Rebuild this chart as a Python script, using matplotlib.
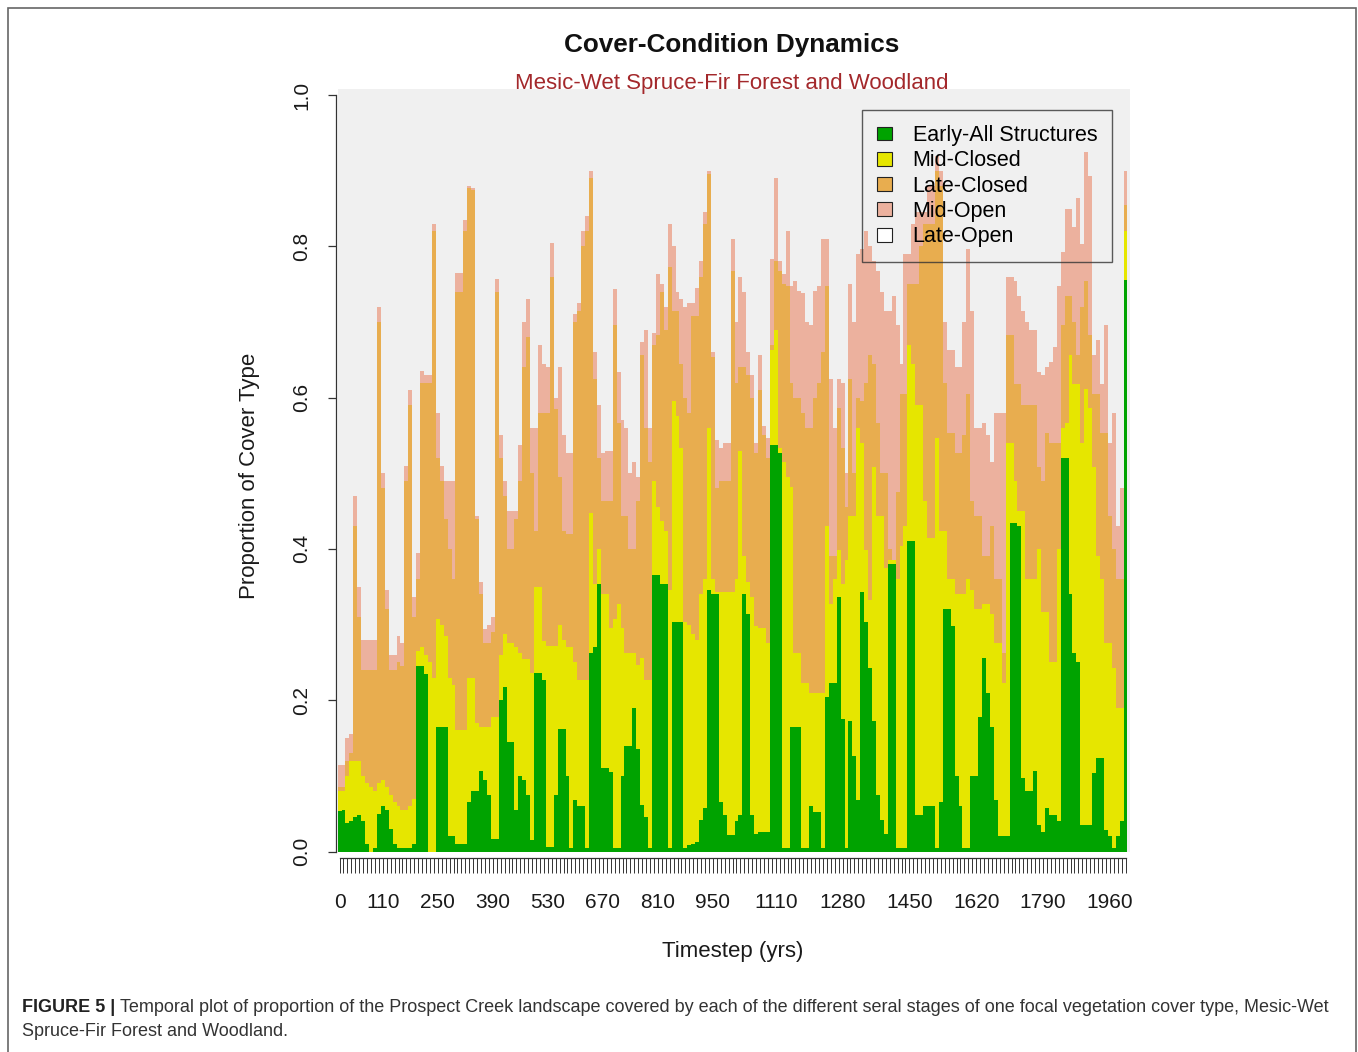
import numpy as np
import matplotlib
matplotlib.use("Agg")
import matplotlib.pyplot as plt
from matplotlib.patches import Patch, Rectangle

plt.rcParams['font.family'] = ['Liberation Sans', 'DejaVu Sans']

# --- data (cumulative stack tops, proportion of landscape) ---
timesteps = list(range(0, 2001, 10))
shown_years = [0, 110, 250, 390, 530, 670, 810, 950, 1110, 1280, 1450, 1620, 1790, 1960]

early_top = [
    .054, .055, .038, .040, .045, .048, .040, .010, .000, .005, .050, .060, .055, .030, .010, .005, .005, .005, .005, .010, .245, .245, .235, .000, .000,
    .165, .165, .165, .020, .020, .010, .010, .010, .065, .080, .080, .107, .094, .075, .016, .016, .200, .217, .145, .145, .055, .100, .094, .075, .015,
    .236, .236, .227, .006, .006, .075, .162, .162, .100, .005, .068, .060, .060, .005, .262, .270, .353, .110, .110, .105, .005, .005, .100, .140, .140, .190,
    .136, .061, .045, .005, .366, .366, .353, .353, .005, .304, .304, .304, .005, .008, .010, .012, .042, .058, .346, .340, .340, .065, .048, .022, .022,
    .040, .048, .340, .314, .048, .023, .026, .026, .026, .537, .537, .527, .005, .005, .165, .165, .165, .005, .005, .060, .052, .052, .005, .204, .223, .223,
    .337, .175, .005, .172, .126, .068, .343, .304, .243, .172, .075, .042, .023, .380, .380, .005, .005, .005, .410, .410, .048, .048, .060, .060, .060,
    .005, .065, .320, .320, .298, .100, .060, .005, .005, .100, .100, .178, .256, .210, .165, .068, .020, .020, .020, .434, .434, .430, .097, .080, .080, .107,
    .035, .026, .058, .048, .048, .040, .520, .520, .340, .262, .250, .035, .035, .035, .104, .123, .123, .029, .020, .005, .020, .040, .755,
]
mid_closed_top = [
    .080, .080, .100, .120, .120, .120, .100, .090, .085, .080, .090, .095, .085, .075, .065, .060, .055, .055, .060, .070, .265, .270, .260, .250, .230,
    .307, .300, .285, .230, .220, .160, .160, .160, .230, .230, .170, .165, .165, .165, .178, .178, .260, .288, .275, .275, .270, .262, .255, .255, .236,
    .350, .350, .278, .272, .272, .272, .300, .280, .270, .270, .250, .227, .227, .227, .447, .353, .400, .340, .340, .295, .307, .327, .295, .262, .262, .262,
    .246, .256, .227, .227, .490, .456, .437, .424, .346, .595, .576, .534, .304, .300, .288, .280, .340, .360, .560, .360, .343, .343, .343, .343, .343,
    .360, .530, .390, .356, .337, .298, .295, .295, .275, .663, .690, .534, .515, .495, .482, .262, .262, .223, .223, .210, .210, .210, .210, .430, .327, .360,
    .398, .353, .385, .443, .443, .560, .540, .398, .333, .508, .443, .443, .375, .385, .385, .360, .404, .430, .670, .644, .590, .590, .463, .414, .414,
    .547, .424, .424, .360, .360, .340, .340, .340, .360, .346, .320, .320, .327, .327, .314, .275, .275, .223, .540, .540, .490, .450, .450, .360, .360, .360,
    .400, .317, .317, .250, .250, .400, .560, .566, .657, .618, .618, .540, .612, .586, .508, .390, .360, .275, .275, .243, .190, .190, .820,
]
late_closed_top = [
    .085, .085, .120, .130, .430, .310, .240, .240, .240, .240, .700, .480, .320, .240, .240, .250, .245, .490, .590, .310, .360, .620, .620, .620, .820,
    .520, .490, .440, .400, .360, .740, .740, .820, .877, .875, .440, .340, .275, .275, .290, .740, .520, .470, .400, .400, .440, .490, .640, .680, .500,
    .424, .580, .580, .580, .760, .585, .495, .424, .420, .420, .700, .715, .800, .820, .890, .625, .520, .463, .463, .463, .696, .566, .443, .443, .400, .400,
    .463, .657, .560, .515, .670, .683, .740, .690, .773, .715, .715, .644, .600, .580, .708, .708, .760, .830, .896, .654, .480, .490, .490, .490, .767,
    .620, .640, .640, .630, .600, .527, .610, .550, .520, .670, .780, .767, .750, .748, .620, .600, .600, .580, .560, .560, .600, .620, .660, .748, .390, .390,
    .586, .534, .456, .625, .500, .600, .595, .620, .657, .644, .566, .500, .500, .400, .385, .475, .605, .605, .750, .750, .750, .800, .830, .830, .830,
    .900, .880, .620, .553, .553, .527, .527, .550, .605, .463, .443, .443, .390, .390, .430, .360, .360, .262, .683, .683, .618, .618, .590, .590, .590, .590,
    .508, .490, .553, .540, .540, .540, .696, .735, .735, .700, .657, .720, .754, .683, .605, .605, .553, .553, .443, .400, .360, .360, .855,
]
mid_open_top = [
    .115, .115, .150, .155, .470, .350, .280, .280, .280, .280, .720, .500, .346, .260, .260, .285, .275, .510, .610, .336, .395, .635, .630, .630, .830,
    .580, .510, .490, .490, .490, .765, .765, .835, .880, .877, .443, .356, .294, .300, .310, .757, .550, .490, .450, .450, .450, .537, .700, .730, .560,
    .560, .670, .644, .640, .805, .600, .640, .550, .527, .527, .710, .725, .820, .840, .900, .660, .590, .527, .530, .530, .744, .634, .570, .560, .500, .515,
    .495, .673, .690, .560, .686, .764, .750, .720, .830, .800, .740, .730, .720, .725, .725, .745, .780, .845, .900, .660, .544, .534, .540, .540, .810,
    .700, .760, .740, .660, .630, .540, .657, .563, .547, .783, .890, .780, .764, .820, .748, .754, .741, .738, .700, .696, .741, .748, .810, .810, .625, .560,
    .625, .620, .500, .750, .700, .790, .796, .820, .800, .780, .767, .740, .715, .715, .735, .696, .644, .790, .790, .830, .845, .845, .845, .880, .880,
    .920, .900, .700, .663, .663, .640, .640, .700, .796, .715, .560, .560, .566, .550, .515, .580, .580, .580, .760, .760, .754, .735, .715, .700, .690, .690,
    .634, .630, .640, .647, .667, .748, .793, .850, .850, .825, .864, .803, .925, .893, .657, .676, .618, .696, .540, .580, .430, .480, .900,
]

stage_names = ["Early-All Structures", "Mid-Closed", "Late-Closed", "Mid-Open", "Late-Open"]
stage_colors = ["#00A300", "#E6E600", "#E8AD4F", "#ECB19E", "#FFFFFF"]

W, H = 1358, 1052
fig = plt.figure(figsize=(W / 100, H / 100), dpi=100)
fig.patch.set_facecolor("white")

# plot panel (pixel box of the gray region)
ax = fig.add_axes([337.6 / W, 1 - 851.5 / H, (1130 - 337.6) / W, (851.5 - 89) / H])
ax.set_facecolor("#F0F0F0")

x = np.arange(len(timesteps))
bottom = np.zeros(len(x))
for top, color in zip([early_top, mid_closed_top, late_closed_top, mid_open_top], stage_colors):
    top = np.asarray(top)
    ax.bar(x, top - bottom, bottom=bottom, width=1.0, color=color,
           linewidth=0, antialiased=False)
    bottom = top

ax.set_xlim(-0.5, 201.14)
ax.set_ylim(0, 1.008)

for side in ["top", "right"]:
    ax.spines[side].set_visible(False)
ax.spines["left"].set_position(("outward", 0.8))
ax.spines["left"].set_bounds(0, 1)
ax.spines["bottom"].set_position(("outward", 5))
ax.spines["bottom"].set_bounds(0, 200)
for side in ["left", "bottom"]:
    ax.spines[side].set_color("#333333")
    ax.spines[side].set_linewidth(0.9)

ax.set_xticks(x)
ax.set_xticklabels([str(t) if t in shown_years else "" for t in timesteps])
ax.tick_params(axis="x", length=10.5, width=0.7, color="#333333", pad=14.5,
               labelsize=15, labelcolor="#1a1a1a")

ax.set_yticks([0, 0.2, 0.4, 0.6, 0.8, 1.0])
ax.set_yticklabels(["0.0", "0.2", "0.4", "0.6", "0.8", "1.0"], rotation=90, va="center")
ax.tick_params(axis="y", length=6, width=0.9, color="#333333", pad=12,
               labelsize=15, labelcolor="#1a1a1a")

fig.text(250 / W, 1 - 476 / H, "Proportion of Cover Type", rotation=90,
         ha="center", va="center", fontsize=16, color="#1a1a1a")
fig.text(733 / W, 1 - 952 / H, "Timestep (yrs)", ha="center", va="center",
         fontsize=16, color="#1a1a1a")

fig.text(732 / W, 1 - 45 / H, "Cover-Condition Dynamics", ha="center", va="center",
         fontsize=18.8, weight="bold", color="#111111")
fig.text(732 / W, 1 - 84 / H, "Mesic-Wet Spruce-Fir Forest and Woodland", ha="center",
         va="center", fontsize=16, color="#A3282B")

handles = [Patch(facecolor=c, edgecolor="#222222", linewidth=0.8) for c in stage_colors]
leg = ax.legend(handles, stage_names, loc="upper left",
                bbox_to_anchor=(862 / W, 1 - 110 / H), bbox_transform=fig.transFigure,
                borderaxespad=0, fontsize=15.5, handlelength=0.7, handleheight=0.62,
                handletextpad=0.95, labelspacing=0.2, borderpad=0.7,
                fancybox=False, frameon=True)
leg.get_frame().set_facecolor("none")
leg.get_frame().set_edgecolor("#333333")
leg.get_frame().set_linewidth(1.0)

# figure frame and caption
fig.patches.append(Rectangle((8 / W, -0.01), (1356 - 8) / W, 1 - 8 / H + 0.01,
                             transform=fig.transFigure, fill=False,
                             edgecolor="#666666", linewidth=1.2))

cap_size = 13.0
renderer = fig.canvas.get_renderer()
bold = fig.text(22 / W, 1 - 1007 / H, "FIGURE 5 |", fontsize=cap_size, weight="bold",
                va="center", color="#222222")
bb = bold.get_window_extent(renderer=renderer)
fig.text((bb.x1 + 5) / W, 1 - 1007 / H,
         "Temporal plot of proportion of the Prospect Creek landscape covered by each of the "
         "different seral stages of one focal vegetation cover type, Mesic-Wet",
         fontsize=cap_size, va="center", color="#333333")
fig.text(22 / W, 1 - 1032 / H, "Spruce-Fir Forest and Woodland.", fontsize=cap_size,
         va="center", color="#333333")

fig.savefig("out.png", dpi=100)
